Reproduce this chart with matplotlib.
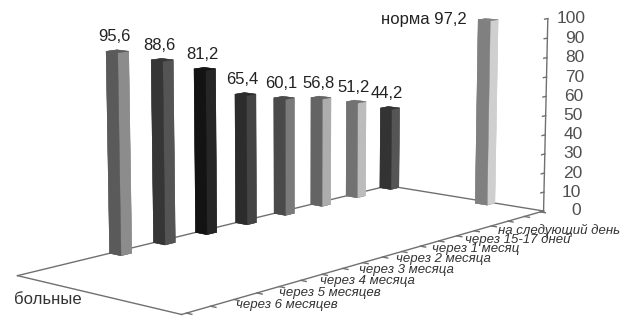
import matplotlib
matplotlib.use("Agg")
import matplotlib.pyplot as plt
import matplotlib.transforms as mtransforms
import numpy as np

plt.rcParams['font.family'] = ['Liberation Sans Narrow', 'Liberation Sans', 'DejaVu Sans']

# values by period, in the order the columns stand from left to right
periods = ["через 6 месяцев", "через 5 месяцев", "через 4 месяца", "через 3 месяца",
           "через 2 месяца", "через 1 месяц", "через 15-17 дней", "на следующий день"]
patients = [95.6, 88.6, 81.2, 65.4, 60.1, 56.8, 51.2, 44.2]
norm_value = 97.2
series_name = "больные"
z_ticks = list(range(0, 101, 10))

# shades for the side (left) and front faces of each column
side_colors = ['#5a5a5a', '#363636', '#131313', '#2c2c2c', '#4a4a4a', '#646464', '#727272', '#333333']
front_colors = ['#8c8c8c', '#545454', '#262626', '#444444', '#7a7a7a', '#adadad', '#bcbcbc', '#555555']
norm_side, norm_front = '#808080', '#cfcfcf'

fig = plt.figure(figsize=(6.25, 3.29), dpi=100)
ax = fig.add_axes([-0.028, 0.064, 1, 1], projection='3d', computed_zorder=False)
ax.set_proj_type('persp', focal_length=1.1)
ax.view_init(elev=10, azim=-139.4)
x_lo, x_hi = -1.95, 7.25
ax.set_xlim(x_lo, x_hi)
ax.set_ylim(0, 1)
ax.set_zlim(0, 100)
ax.set_box_aspect((533, 202, 198), zoom=1.88)
ax.set_axis_off()


def shifted(dx, dy):
    # offset in points on top of the projected 3d position
    return ax.transData + mtransforms.ScaledTranslation(dx / 72, dy / 72, fig.dpi_scale_trans)


# floor outline and value axis
line_kw = dict(color='#707070', lw=1.0, zorder=1, clip_on=False)
ax.plot([x_lo, x_hi], [1, 1], [0, 0], **line_kw)
ax.plot([x_hi, x_hi], [1, 0], [0, 0], **line_kw)
ax.plot([x_lo, x_hi], [0, 0], [0, 0], **line_kw)
ax.plot([x_lo, x_lo], [0, 1], [0, 0], **line_kw)
ax.plot([x_hi, x_hi], [0, 0], [0, 100], **line_kw)

for v in z_ticks:
    ax.plot([x_hi - 0.1, x_hi], [0, 0], [v, v], **line_kw)
    ax.text(x_hi, 0, v, str(v), ha='right', va='center', fontsize=12.5, color='#505050',
            transform=shifted(27, 0))

for t in np.arange(x_lo + 0.1, x_hi, 0.5):
    ax.plot([t, t], [0, -0.03], [0, 0], **line_kw)

# columns
bar_w, bar_d = 0.24, 0.075
xs = np.arange(len(patients))
faces = []
for s, f in zip(side_colors, front_colors):
    # bottom, top, front, back, left, right
    faces += [s, s, f, s, s, f]
ax.bar3d(xs, np.full(len(xs), 1 - bar_d), np.zeros(len(xs)), bar_w, bar_d, patients,
         color=faces, edgecolor=faces, linewidth=0.3, shade=False, zorder=2, clip_on=False)

norm_x, norm_y = x_hi - bar_w, 0.30
ax.bar3d([norm_x], [norm_y], [0], bar_w, bar_d, [norm_value],
         color=[norm_side, norm_side, norm_front, norm_side, norm_side, norm_front],
         edgecolor=[norm_side, norm_side, norm_front, norm_side, norm_side, norm_front],
         linewidth=0.3, shade=False, zorder=2, clip_on=False)

for x, v in zip(xs, patients):
    ax.text(x + bar_w / 2, 1 - bar_d / 2, v, f"{v:.1f}".replace('.', ','), ha='center', va='bottom',
            fontsize=12, color='#222222', zorder=3, transform=shifted(-2, 5))

ax.text(norm_x, norm_y + bar_d, norm_value, "норма " + f"{norm_value:.1f}".replace('.', ','),
        ha='right', va='center', fontsize=12, color='#222222', zorder=3, transform=shifted(-8, 0))

for x, lab in zip(xs, periods):
    ax.text(x + bar_w / 2, 0, 0, lab, ha='left', va='center', rotation=-12, rotation_mode='anchor',
            fontsize=9.5, fontstyle='italic', color='#333333', zorder=3, transform=shifted(-30, -13))

ax.text(x_lo, 1, 0, series_name, ha='center', va='center', fontsize=12, color='#333333',
        transform=shifted(22, -17))

fig.savefig("out.png", dpi=100, facecolor='white')
